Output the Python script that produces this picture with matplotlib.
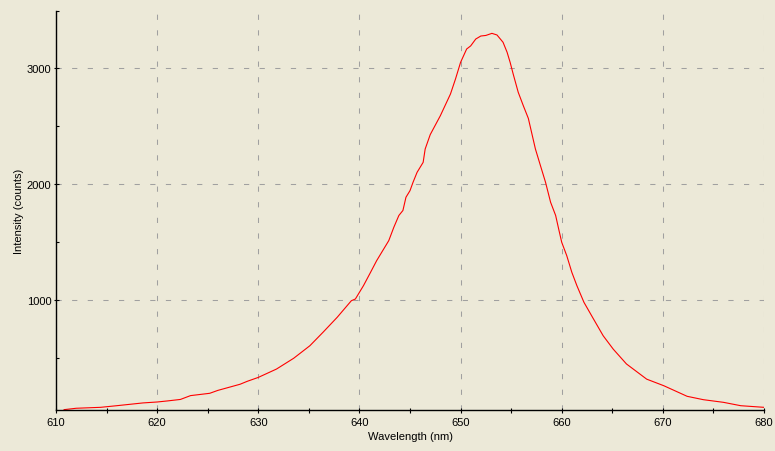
import matplotlib
matplotlib.use("Agg")
import matplotlib.pyplot as plt
import matplotlib.ticker as ticker
import numpy as np

# spectrum (wavelength nm, intensity counts)
wavelength = [610.8, 612.0, 614.4, 616.0, 618.6, 620.0, 621.0, 622.3, 623.3, 625.2,
              626.0, 628.2, 628.9, 630.0, 631.8, 633.5, 635.1, 636.4, 637.8, 639.2,
              639.6, 640.4, 641.1, 641.7, 642.4, 642.9, 643.4, 643.9, 644.3, 644.6,
              645.0, 645.3, 645.7, 646.3, 646.5, 647.0, 648.0, 649.0, 649.5, 650.0,
              650.6, 651.0, 651.5, 652.0, 652.5, 653.1, 653.6, 654.2, 654.6, 654.9,
              655.2, 655.7, 656.2, 656.7, 657.4, 657.9, 658.4, 658.9, 659.4, 659.7,
              660.0, 660.5, 661.0, 661.5, 662.2, 663.1, 664.1, 665.1, 666.4, 668.4,
              670.1, 672.4, 674.0, 676.0, 677.7, 680.0]
intensity = [59, 71, 79, 93, 117, 125, 134, 147, 180, 200,
             225, 278, 303, 337, 409, 502, 610, 726, 855, 998,
             1013, 1128, 1243, 1343, 1444, 1516, 1631, 1733, 1776, 1890,
             1947, 2019, 2105, 2191, 2306, 2430, 2593, 2780, 2910, 3053,
             3168, 3195, 3254, 3280, 3285, 3303, 3289, 3226, 3140, 3053,
             2953, 2795, 2680, 2570, 2306, 2162, 2019, 1847, 1733, 1616,
             1502, 1386, 1243, 1128, 984, 847, 696, 580, 453, 322,
             265, 174, 145, 122, 93, 79]

x_major = [610, 620, 630, 640, 650, 660, 670, 680]
y_major = [1000, 2000, 3000]

bg = "#ECE9D8"
plt.rcParams['font.family'] = ['Liberation Sans', 'DejaVu Sans']

fig = plt.figure(figsize=(7.75, 4.52), dpi=100, facecolor=bg)
ax = fig.add_axes([56/775, 41/452, 708/775, 399.5/452], facecolor=bg)

ax.plot(wavelength, intensity, color="#FF0000", lw=0.8)

ax.set_xlim(610, 680)
ax.set_ylim(56, 3500)

ax.xaxis.set_major_locator(ticker.FixedLocator(x_major))
ax.xaxis.set_minor_locator(ticker.MultipleLocator(5))
ax.yaxis.set_major_locator(ticker.FixedLocator(y_major))
ax.yaxis.set_minor_locator(ticker.FixedLocator([500, 1500, 2500, 3500]))

# grey dashed grid, ~5px dash / 10px gap
ax.grid(True, which="major", color="#A0A0A0", lw=0.75, dashes=(5, 10))

for s in ["top", "right"]:
    ax.spines[s].set_visible(False)
for s in ["left", "bottom"]:
    ax.spines[s].set_linewidth(1.0)
    ax.spines[s].set_color("black")

ax.tick_params(axis="both", which="both", direction="inout", length=3.6, width=0.8,
               labelsize=8, colors="black")
ax.tick_params(axis="x", which="major", pad=3)
ax.tick_params(axis="y", which="major", pad=1.5)
ax.tick_params(axis="y", which="minor", direction="in", length=2.5)

ax.set_xlabel("Wavelength (nm)", fontsize=8, labelpad=3)
ax.set_ylabel("Intensity (counts)", fontsize=8, labelpad=2)

fig.savefig("out.png", dpi=100, facecolor=bg)
